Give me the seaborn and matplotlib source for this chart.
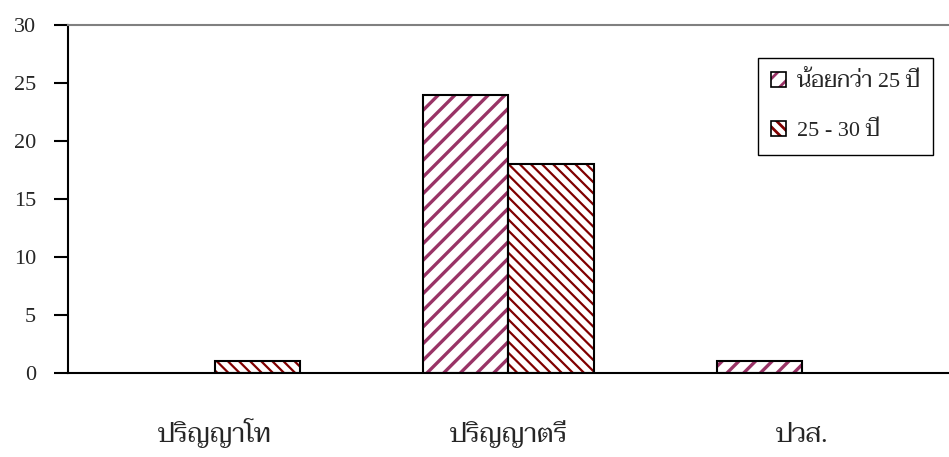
import matplotlib
matplotlib.use('agg')
import matplotlib.pyplot as plt
import pandas as pd
import seaborn as sns
from matplotlib.patches import Patch, Rectangle
from matplotlib.legend_handler import HandlerTuple

categories = ['ปริญญาโท', 'ปริญญาตรี', 'ปวส.']
series_names = ['น้อยกว่า 25 ปี', '25 - 30 ปี']
under_25 = [0, 24, 1]
age_25_30 = [1, 18, 0]
y_ticks = [0, 5, 10, 15, 20, 25, 30]

hatch_colors = ['#993366', '#800000']
hatches = ['//', '\\\\\\']
hatch_widths = [2.4, 1.6]

sns.set_style('white')
plt.rcParams['font.family'] = ['Liberation Serif', 'Taviraj', 'Trirong', 'Noto Serif Thai', 'Noto Sans Thai', 'DejaVu Sans']
plt.rcParams['hatch.linewidth'] = 2.0

df = pd.DataFrame({
    'cat': categories * 2,
    'series': [series_names[0]] * 3 + [series_names[1]] * 3,
    'value': under_25 + age_25_30,
})

fig = plt.figure(figsize=(9.49, 4.57), dpi=100)
ax = fig.add_axes([68 / 949, 84 / 457, 881 / 949, 348 / 457])

sns.barplot(data=df, x='cat', y='value', hue='series', order=categories,
            hue_order=series_names, width=0.58, gap=0, ax=ax, legend=False)

bars = ax.patches[:6]
for i, bar in enumerate(bars):
    s = i // 3
    bar.set_facecolor('white')
    bar.set_edgecolor(hatch_colors[s])
    bar.set_hatch(hatches[s])
    if hasattr(bar, 'set_hatch_linewidth'):
        bar.set_hatch_linewidth(hatch_widths[s])
    bar.set_linewidth(0)
    if bar.get_height() > 0:
        ax.add_patch(Rectangle(bar.get_xy(), bar.get_width(), bar.get_height(),
                               fill=False, edgecolor='black', linewidth=1.5, zorder=3))

ax.set_xlim(-0.5, -0.5 + 881 / 297)
ax.set_ylim(0, 30)
ax.set_yticks(y_ticks)
ax.set_yticklabels([str(t) for t in y_ticks], fontsize=16)
ax.set_xticks(range(len(categories)))
ax.set_xticklabels(categories, fontsize=19, va='baseline')
ax.set_xticks([-0.5, 0.5, 1.5, 2.5], minor=True)
ax.tick_params(axis='x', which='major', length=0, pad=50)
ax.tick_params(axis='x', which='minor', length=7, width=1.5, direction='out', color='black')
ax.tick_params(axis='y', length=10, width=1.5, direction='out', color='black', pad=13, left=True)
ax.set_xlabel('')
ax.set_ylabel('')

for side in ['left', 'bottom']:
    ax.spines[side].set_color('black')
    ax.spines[side].set_linewidth(1.5)
ax.spines['right'].set_visible(False)
ax.spines['top'].set_visible(True)
ax.spines['top'].set_color('#808080')
ax.spines['top'].set_linewidth(1.5)

handles = []
for s in range(2):
    h1 = Patch(facecolor='white', edgecolor=hatch_colors[s], hatch=hatches[s], linewidth=0)
    if hasattr(h1, 'set_hatch_linewidth'):
        h1.set_hatch_linewidth(hatch_widths[s])
    h2 = Patch(fill=False, edgecolor='black', linewidth=1.2)
    handles.append((h1, h2))
leg = fig.legend(handles, series_names, handler_map={tuple: HandlerTuple(ndivide=1, pad=0)},
                 loc='upper right', bbox_to_anchor=(933 / 949, 1 - 58 / 457),
                 fontsize=16, frameon=True, fancybox=False, edgecolor='black',
                 framealpha=1, borderaxespad=0, handlelength=0.65, handleheight=0.65,
                 handletextpad=0.5, labelspacing=1.3, borderpad=0.6)
leg.get_frame().set_linewidth(1.0)

fig.savefig('out.png', dpi=100)
